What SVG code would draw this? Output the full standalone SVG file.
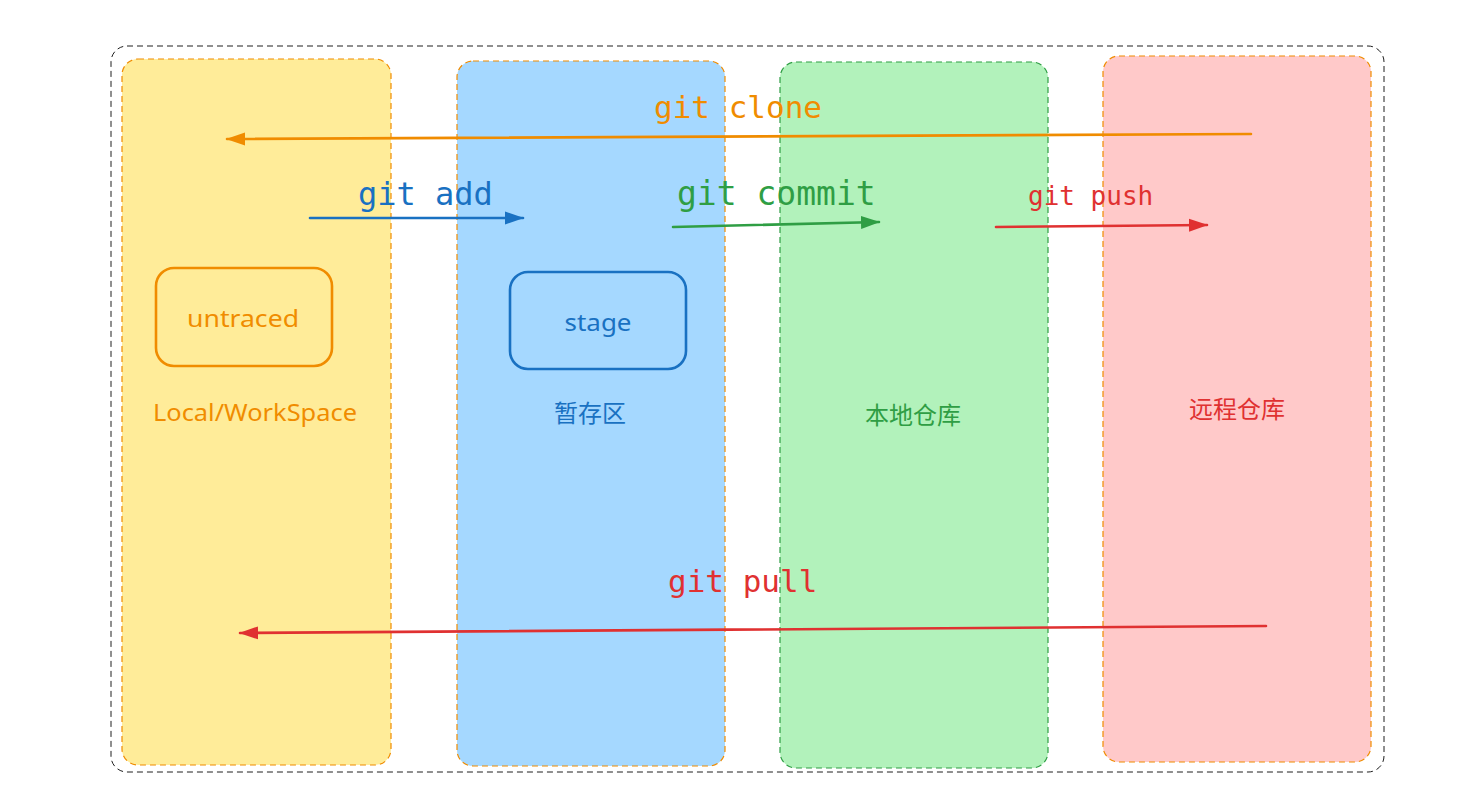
<svg xmlns="http://www.w3.org/2000/svg" width="1472" height="808" viewBox="0 0 1472 808">
<style>
.col{stroke-width:1.2;stroke-dasharray:6 4}
.box{fill:none;stroke-width:2.6}
.lbl{font-family:"Noto Sans","Noto Sans CJK SC",sans-serif;font-size:24px;text-anchor:middle;dominant-baseline:central}
.cjk{font-family:"Noto Sans CJK SC",sans-serif;font-size:24px;text-anchor:middle;dominant-baseline:central}
.cmd{font-family:"DejaVu Sans Mono","Liberation Mono",monospace;text-anchor:start}
.conn{fill:none;stroke-width:2.6;stroke-linecap:round}
</style>
<defs>
<marker id="ao" markerUnits="userSpaceOnUse" markerWidth="20" markerHeight="16" viewBox="0 0 20 16" refX="18" refY="8" orient="auto"><path d="M0,1.5 L19,8 L0,14.5 Z" fill="#f08c00"/></marker>
<marker id="ab" markerUnits="userSpaceOnUse" markerWidth="20" markerHeight="16" viewBox="0 0 20 16" refX="18" refY="8" orient="auto"><path d="M0,1.5 L19,8 L0,14.5 Z" fill="#1971c2"/></marker>
<marker id="ag" markerUnits="userSpaceOnUse" markerWidth="20" markerHeight="16" viewBox="0 0 20 16" refX="18" refY="8" orient="auto"><path d="M0,1.5 L19,8 L0,14.5 Z" fill="#2f9e44"/></marker>
<marker id="ar" markerUnits="userSpaceOnUse" markerWidth="20" markerHeight="16" viewBox="0 0 20 16" refX="18" refY="8" orient="auto"><path d="M0,1.5 L19,8 L0,14.5 Z" fill="#e03131"/></marker>
</defs>
<rect width="1472" height="808" fill="#ffffff"/>
<g id="frame"><rect x="111" y="46" width="1273" height="726" rx="16" fill="none" stroke="#1e1e1e" stroke-width="1" stroke-dasharray="6 4"/></g>
<g id="col-local"><rect class="col" x="122" y="59" width="269" height="706" rx="16" fill="#ffec99" stroke="#f08c00"/><text class="lbl" x="255" y="411" fill="#f08c00" textLength="204" lengthAdjust="spacingAndGlyphs">Local/WorkSpace</text></g>
<g id="col-stage"><rect class="col" x="457" y="61" width="268" height="705" rx="16" fill="#a5d8ff" stroke="#f08c00"/><text class="cjk" x="590" y="411" fill="#1971c2">暂存区</text></g>
<g id="col-repo"><rect class="col" x="780" y="62" width="268" height="706" rx="16" fill="#b2f2bb" stroke="#2f9e44"/><text class="cjk" x="913" y="413" fill="#2f9e44">本地仓库</text></g>
<g id="col-remote"><rect class="col" x="1103" y="56" width="268" height="706" rx="16" fill="#ffc9c9" stroke="#f08c00"/><text class="cjk" x="1237" y="407" fill="#e03131">远程仓库</text></g>
<g id="untraced"><rect class="box" x="156" y="268" width="176" height="98" rx="18" stroke="#f08c00"/><text class="lbl" x="243" y="317" fill="#f08c00" textLength="112" lengthAdjust="spacingAndGlyphs">untraced</text></g>
<g id="stage"><rect class="box" x="510" y="272" width="176" height="97" rx="18" stroke="#1971c2"/><text class="lbl" x="598" y="321" fill="#1971c2" textLength="67" lengthAdjust="spacingAndGlyphs">stage</text></g>
<g id="connectors">
<line class="conn" x1="1251" y1="134" x2="227" y2="139" stroke="#f08c00" marker-end="url(#ao)"/>
<text class="cmd" x="654" y="118" font-size="31" fill="#f08c00">git clone</text>
<line class="conn" x1="310" y1="218" x2="523" y2="218" stroke="#1971c2" marker-end="url(#ab)"/>
<text class="cmd" x="358" y="205" font-size="32" fill="#1971c2">git add</text>
<line class="conn" x1="673" y1="227" x2="879" y2="222" stroke="#2f9e44" marker-end="url(#ag)"/>
<text class="cmd" x="677" y="205" font-size="33" fill="#2f9e44">git commit</text>
<line class="conn" x1="996" y1="227" x2="1207" y2="225" stroke="#e03131" marker-end="url(#ar)"/>
<text class="cmd" x="1028" y="205" font-size="26" fill="#e03131">git push</text>
<line class="conn" x1="1266" y1="626" x2="240" y2="633" stroke="#e03131" stroke-width="3" marker-end="url(#ar)"/>
<text class="cmd" x="668" y="592" font-size="31" fill="#e03131">git pull</text>
</g>
</svg>
